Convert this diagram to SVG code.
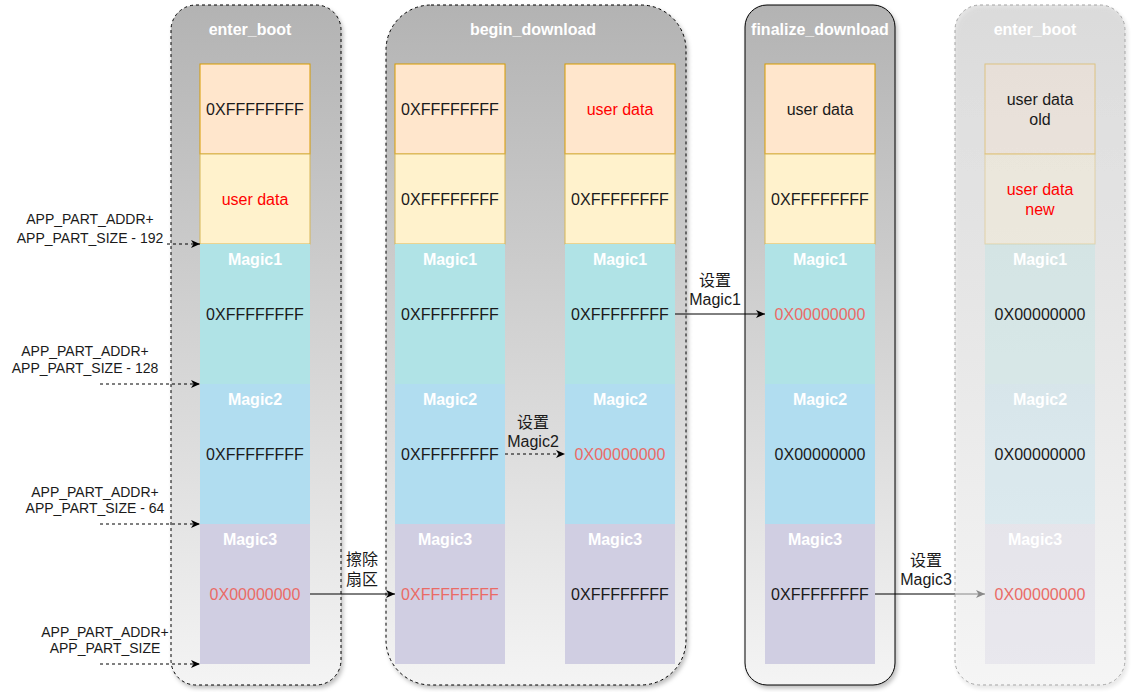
<svg xmlns="http://www.w3.org/2000/svg" width="1132" height="692" viewBox="0 0 1132 692">
<defs>
<linearGradient id="g" x1="0" y1="0" x2="0" y2="1">
<stop offset="0" stop-color="#b3b3b3"/>
<stop offset="1" stop-color="#f4f4f4"/>
</linearGradient>
<filter id="sh" x="-10%" y="-5%" width="130%" height="110%">
<feDropShadow dx="2" dy="3" stdDeviation="2" flood-color="#000" flood-opacity="0.25"/>
</filter>
<marker id="ah" markerWidth="10" markerHeight="10" refX="9" refY="5" orient="auto" markerUnits="userSpaceOnUse">
<path d="M0,1 L9,5 L0,9 L2.5,5 Z" fill="#000"/>
</marker>
<marker id="ahg" markerWidth="10" markerHeight="10" refX="9" refY="5" orient="auto" markerUnits="userSpaceOnUse">
<path d="M0,1 L9,5 L0,9 L2.5,5 Z" fill="#4d4d4d"/>
</marker>
</defs>
<style>
text{font-family:"Liberation Sans",Arial,"Noto Sans CJK SC",sans-serif;text-anchor:middle}
.t{font-size:16px;font-weight:bold;fill:#fff}
.v{font-size:16px;fill:#1a1a1a}
.r{fill:#ff0000}
.rr{fill:#ea6b66}
.lb{font-size:14px;fill:#1a1a1a}
.el{font-size:16px;fill:#1a1a1a}
.mg{font-size:16px;font-weight:bold;fill:#fff}
.o{fill:#ffe6cc;stroke:#d79b00}
.y{fill:#fff2cc;stroke:#d6b656}
.m1{fill:#b0e3e6}
.m2{fill:#b1ddf0}
.m3{fill:#d0cee2}
.cont{fill:url(#g);filter:url(#sh)}
</style>

<g id="c1">
<rect class="cont" x="171" y="5" width="170" height="680" rx="25" stroke="#000" stroke-dasharray="3 3"/>
<text class="t" x="250" y="35">enter_boot</text>
<rect class="o" x="200" y="64" width="110" height="90"/>
<text class="v" x="255" y="115">0XFFFFFFFF</text>
<rect class="y" x="200" y="154" width="110" height="90"/>
<text class="v r" x="255" y="205">user data</text>
<rect class="m1" x="200" y="244" width="110" height="140"/>
<text class="mg" x="255" y="265">Magic1</text>
<text class="v" x="255" y="320">0XFFFFFFFF</text>
<rect class="m2" x="200" y="384" width="110" height="140"/>
<text class="mg" x="255" y="405">Magic2</text>
<text class="v" x="255" y="460">0XFFFFFFFF</text>
<rect class="m3" x="200" y="524" width="110" height="140"/>
<text class="mg" x="250" y="545">Magic3</text>
<text class="v rr" x="255" y="600">0X00000000</text>
</g>

<g id="c2">
<rect class="cont" x="386" y="5" width="300" height="680" rx="45" stroke="#000" stroke-dasharray="3 3"/>
<text class="t" x="533" y="35">begin_download</text>
<rect class="o" x="395" y="64" width="110" height="90"/>
<text class="v" x="450" y="115">0XFFFFFFFF</text>
<rect class="y" x="395" y="154" width="110" height="90"/>
<text class="v" x="450" y="205">0XFFFFFFFF</text>
<rect class="m1" x="395" y="244" width="110" height="140"/>
<text class="mg" x="450" y="265">Magic1</text>
<text class="v" x="450" y="320">0XFFFFFFFF</text>
<rect class="m2" x="395" y="384" width="110" height="140"/>
<text class="mg" x="450" y="405">Magic2</text>
<text class="v" x="450" y="460">0XFFFFFFFF</text>
<rect class="m3" x="395" y="524" width="110" height="140"/>
<text class="mg" x="445" y="545">Magic3</text>
<text class="v rr" x="450" y="600">0XFFFFFFFF</text>

<rect class="o" x="565" y="64" width="110" height="90"/>
<text class="v r" x="620" y="115">user data</text>
<rect class="y" x="565" y="154" width="110" height="90"/>
<text class="v" x="620" y="205">0XFFFFFFFF</text>
<rect class="m1" x="565" y="244" width="110" height="140"/>
<text class="mg" x="620" y="265">Magic1</text>
<text class="v" x="620" y="320">0XFFFFFFFF</text>
<rect class="m2" x="565" y="384" width="110" height="140"/>
<text class="mg" x="620" y="405">Magic2</text>
<text class="v rr" x="620" y="460">0X00000000</text>
<rect class="m3" x="565" y="524" width="110" height="140"/>
<text class="mg" x="615" y="545">Magic3</text>
<text class="v" x="620" y="600">0XFFFFFFFF</text>
</g>

<g id="c3">
<rect class="cont" x="745" y="5" width="150" height="680" rx="22" stroke="#000"/>
<text class="t" x="820" y="35">finalize_download</text>
<rect class="o" x="765" y="64" width="110" height="90"/>
<text class="v" x="820" y="115">user data</text>
<rect class="y" x="765" y="154" width="110" height="90"/>
<text class="v" x="820" y="205">0XFFFFFFFF</text>
<rect class="m1" x="765" y="244" width="110" height="140"/>
<text class="mg" x="820" y="265">Magic1</text>
<text class="v rr" x="820" y="320">0X00000000</text>
<rect class="m2" x="765" y="384" width="110" height="140"/>
<text class="mg" x="820" y="405">Magic2</text>
<text class="v" x="820" y="460">0X00000000</text>
<rect class="m3" x="765" y="524" width="110" height="140"/>
<text class="mg" x="815" y="545">Magic3</text>
<text class="v" x="820" y="600">0XFFFFFFFF</text>
</g>

<g id="labels">
<text class="lb" x="90" y="224">APP_PART_ADDR+</text>
<text class="lb" x="90" y="243">APP_PART_SIZE - 192</text>
<text class="lb" x="85" y="356">APP_PART_ADDR+</text>
<text class="lb" x="85" y="373">APP_PART_SIZE - 128</text>
<text class="lb" x="95" y="497">APP_PART_ADDR+</text>
<text class="lb" x="95" y="513">APP_PART_SIZE - 64</text>
<text class="lb" x="105" y="637">APP_PART_ADDR+</text>
<text class="lb" x="105" y="653">APP_PART_SIZE</text>
</g>

<g id="connectors" fill="none">
<line x1="167" y1="244" x2="200" y2="244" stroke="#000" stroke-dasharray="3 3" marker-end="url(#ah)"/>
<line x1="100" y1="384" x2="200" y2="384" stroke="#000" stroke-dasharray="3 3" marker-end="url(#ah)"/>
<line x1="100" y1="524" x2="200" y2="524" stroke="#000" stroke-dasharray="3 3" marker-end="url(#ah)"/>
<line x1="100" y1="664" x2="200" y2="664" stroke="#000" stroke-dasharray="3 3" marker-end="url(#ah)"/>
<line x1="310" y1="594" x2="395" y2="594" stroke="#000" marker-end="url(#ah)"/>
<text class="el" x="362" y="565">擦除</text>
<text class="el" x="362" y="585">扇区</text>
<line x1="505" y1="454" x2="565" y2="454" stroke="#000" stroke-dasharray="3 3" marker-end="url(#ah)"/>
<text class="el" x="533" y="428">设置</text>
<text class="el" x="533" y="447">Magic2</text>
<line x1="675" y1="314" x2="765" y2="314" stroke="#000" marker-end="url(#ah)"/>
<text class="el" x="715" y="286">设置</text>
<text class="el" x="715" y="305">Magic1</text>
<line x1="875" y1="594" x2="955" y2="594" stroke="#000"/>
<line x1="955" y1="594" x2="985" y2="594" stroke="#4d4d4d" marker-end="url(#ahg)"/>
<text class="el" x="926" y="566">设置</text>
<text class="el" x="926" y="585">Magic3</text>
</g>

<g id="c4">
<rect x="955" y="5" width="170" height="680" rx="25" fill="url(#g)" fill-opacity="0.4" stroke="#999" stroke-dasharray="3 3" filter="url(#sh)" opacity="0.9"/>
<text class="t" x="1035" y="35">enter_boot</text>
<g fill-opacity="0.3" stroke-opacity="0.4">
<rect class="o" x="985" y="64" width="110" height="90"/>
<rect class="y" x="985" y="154" width="110" height="90"/>
<rect class="m1" x="985" y="244" width="110" height="140"/>
<rect class="m2" x="985" y="384" width="110" height="140"/>
<rect class="m3" x="985" y="524" width="110" height="140"/>
</g>
<text class="v" x="1040" y="105">user data</text>
<text class="v" x="1040" y="125">old</text>
<text class="v r" x="1040" y="195">user data</text>
<text class="v r" x="1040" y="215">new</text>
<text class="mg" x="1040" y="265">Magic1</text>
<text class="v" x="1040" y="320">0X00000000</text>
<text class="mg" x="1040" y="405">Magic2</text>
<text class="v" x="1040" y="460">0X00000000</text>
<text class="mg" x="1035" y="545">Magic3</text>
<text class="v rr" x="1040" y="600">0X00000000</text>
</g>
</svg>
